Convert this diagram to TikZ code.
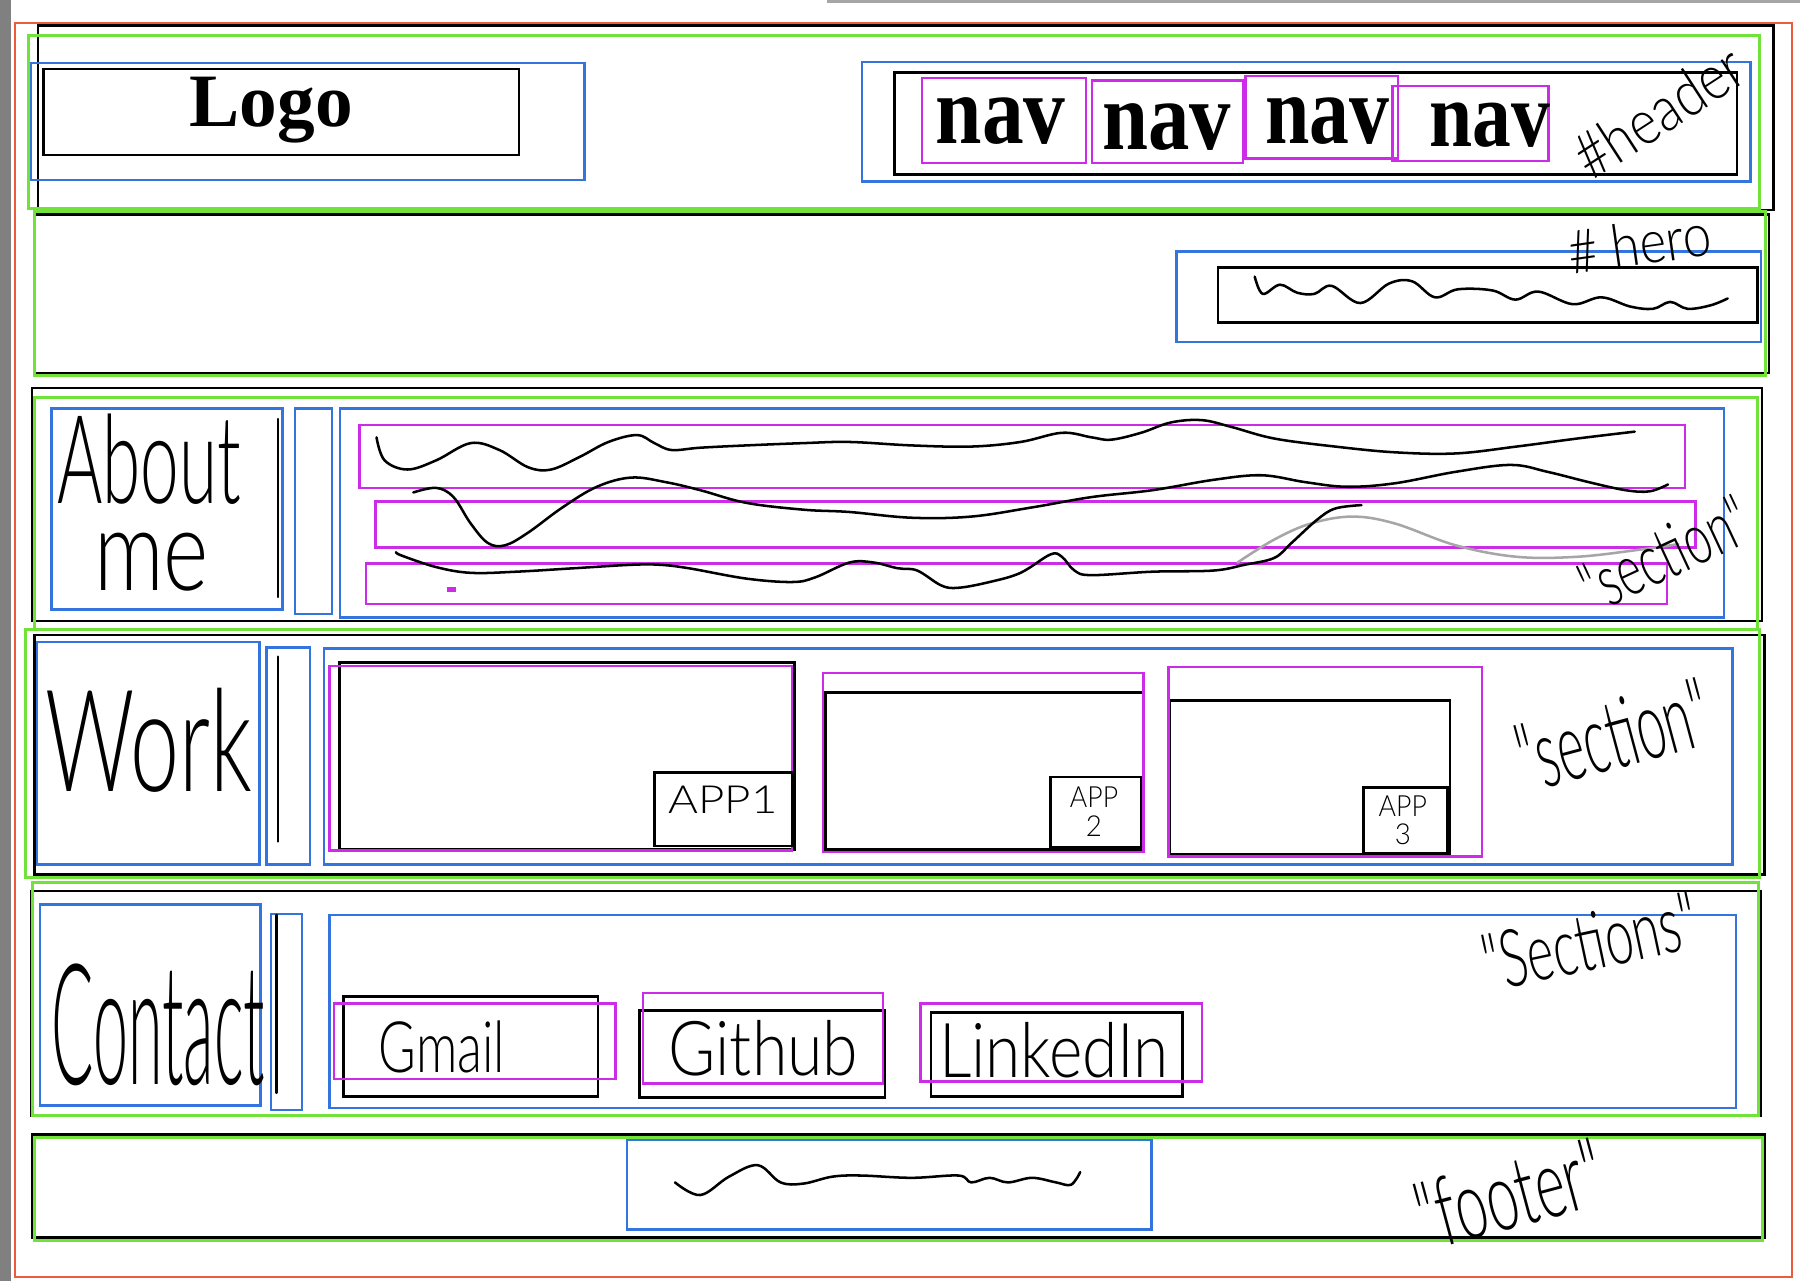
\documentclass[tikz,border=0pt]{standalone}
\usepackage{fontspec}
\usepackage{graphicx}
\newfontfamily\navfont{Liberation Serif}
\newfontfamily\handfont{Lato Light}
\usetikzlibrary{fit}
\definecolor{orangeR}{RGB}{236,92,58}
\definecolor{limeG}{RGB}{112,226,58}
\definecolor{blueB}{RGB}{52,116,222}
\definecolor{magM}{RGB}{204,44,232}
\definecolor{stripG}{RGB}{128,128,128}
\tikzset{
  box/.style={draw=#1, line width=2.1pt, inner sep=0pt},
  blk/.style={box=black, line width=2.3pt},
  grn/.style={box=limeG, line width=2.6pt},
  blu/.style={box=blueB},
  mag/.style={box=magM},
  outer/.style={box=orangeR, line width=1.8pt},
  ink/.style={line width=2.2pt, line cap=round, line join=round},
  hand/.style={inner sep=0pt, font=\handfont},
  txt/.style={inner sep=0pt, anchor=base west},
}
\newcommand\hw[3]{\resizebox{#1pt}{#2pt}{#3}}
\newcommand\bw[3]{\resizebox{#1pt}{#2pt}{\navfont\bfseries #3}}
\begin{document}
\begin{tikzpicture}[x=1pt,y=-1pt]
\useasboundingbox (0,0) rectangle (1568,1116);
\fill[white] (0,0) rectangle (1568,1116);
\fill[stripG] (0,0) rectangle (10,1116);
\fill[stripG!70!white] (720,0) rectangle (1568,3);
% outer page
\node[outer, fit={(13,20)(1561,1112)}] (page) {};
% ---------- header ----------
\node[blk, fit={(33,22)(1545,183)}] (headerB) {};
\node[grn, fit={(25,31)(1533,182)}] (headerG) {};
\node[blk, fit={(38,60)(452,135)}] (logoB) {};
\node[blu, fit={(27,55)(509,157)}] (logoU) {};
\node[txt] (logoT) at (165,110) {\bw{142}{43}{Logo}};
\node[blk, fit={(779,63)(1513,152)}] (navB) {};
\node[blu, fit={(751,54)(1525,158)}] (navU) {};
\node[mag, fit={(803,68)(946,142)}] (nav1) {};
\node[mag, fit={(951,70)(1083,142)}] (nav2) {};
\node[mag, fit={(1085,66)(1218,138)}] (nav3) {};
\node[mag, fit={(1213,75)(1349,140)}] (nav4) {};
\node[txt] (nav1T) at (815,125) {\bw{113}{40}{nav}};
\node[txt] (nav2T) at (960,130) {\bw{112}{40}{nav}};
\node[txt] (nav3T) at (1102,125) {\bw{108}{40}{nav}};
\node[txt] (nav4T) at (1245,128) {\bw{105}{38}{nav}};
\node[hand, rotate=33] (headerT) at (1445,97) {\hw{165}{40}{\#header}};
% ---------- hero ----------
\node[blk, fit={(30,187)(1541,325)}] (heroB) {};
\node[grn, fit={(30,184)(1538,327)}] (heroG) {};
\node[blu, fit={(1025,219)(1534,298)}] (heroU) {};
\node[blk, fit={(1061,233)(1531,281)}] (heroIn) {};
\node[hand, rotate=8] (heroT) at (1428,212) {\hw{125}{38}{\# hero}};
\draw[ink] plot[smooth, tension=0.6] coordinates {(1093,241) (1100,256) (1115,248) (1130,255) (1145,256) (1160,249) (1185,264) (1210,247) (1230,245) (1250,259) (1270,252) (1300,253) (1320,261) (1340,254) (1370,265) (1395,259) (1420,267) (1440,269) (1455,263) (1470,269) (1490,266) (1505,260)};
% ---------- about ----------
\node[blk, fit={(28,338)(1535,541)}] (aboutB) {};
\node[grn, fit={(30,346)(1531,548)}] (aboutG) {};
\node[blu, fit={(45,356)(246,531)}] (aboutL) {};
\node[blu, fit={(257,356)(289,535)}] (aboutS) {};
\node[blu, fit={(296,356)(1502,538)}] (aboutC) {};
\node[mag, fit={(313,370)(1468,425)}] (row1) {};
\node[mag, fit={(327,437)(1477,477)}] (row2) {};
\node[mag, fit={(319,491)(1452,526)}] (row3) {};
\fill[magM] (389,511) rectangle (397,516);
\draw[ink] (242,365) -- (242,520);
\node[hand] (aboutT) at (130,400) {\hw{160}{78}{About}};
\node[hand] (meT) at (132,490) {\hw{100}{50}{me}};
\draw[ink] plot[smooth, tension=0.6] coordinates {(328,381) (335,401) (355,409) (380,401) (410,386) (435,392) (460,407) (480,409) (505,398) (530,385) (555,379) (570,386) (585,392) (610,390) (650,388) (700,386) (740,385) (794,388) (846,389) (889,385) (925,377) (951,381) (968,383) (994,377) (1020,368) (1047,366) (1073,372) (1110,382) (1163,389) (1215,394) (1268,395) (1321,389) (1374,382) (1424,376)};
\draw[ink] plot[smooth, tension=0.6] coordinates {(360,429) (380,425) (395,433) (410,456) (425,473) (440,475) (460,464) (490,442) (520,424) (550,416) (580,420) (610,427) (650,438) (700,444) (740,446) (794,451) (846,450) (899,442) (951,433) (1004,427) (1057,418) (1099,414) (1137,420) (1173,424) (1215,421) (1268,411) (1316,405) (1348,411) (1384,420) (1416,427) (1437,428) (1453,422)};
\draw[ink, gray!70] plot[smooth, tension=0.6] coordinates {(1078,490) (1110,470) (1142,456) (1178,450) (1215,456) (1268,475) (1321,485) (1374,485) (1427,479) (1462,474)};
\draw[ink] plot[smooth, tension=0.6] coordinates {(345,481) (350,484) (380,494) (410,499) (450,498) (500,495) (550,492) (575,492) (600,495) (650,504) (690,507) (710,503) (740,490) (761,490) (782,495) (799,497) (820,510) (835,512) (862,507) (889,499) (915,483) (925,485) (936,497) (951,501) (1004,498) (1057,497) (1084,492) (1110,486) (1125,473) (1147,453) (1163,443) (1186,440)};
\node[hand, rotate=25] (aboutQ) at (1450,482) {\hw{155}{45}{"section"}};
% ---------- work ----------
\node[blk, fit={(30,553)(1537,762)}] (workB) {};
\node[grn, fit={(22,548)(1533,764)}] (workG) {};
\node[blu, fit={(32,559)(226,753)}] (workL) {};
\node[blu, fit={(232,564)(270,753)}] (workS) {};
\node[blu, fit={(282,565)(1509,753)}] (workC) {};
\draw[ink] (242,572) -- (242,733);
\node[hand] (workT) at (130,645) {\hw{180}{90}{Work}};
\node[blk, fit={(296,577)(692,740)}] (card1B) {};
\node[mag, fit={(287,580)(690,741)}] (card1) {};
\node[blk, fit={(570,673)(690,737)}] (app1B) {};
\node[hand] (app1T) at (630,697) {\hw{95}{24}{APP1}};
\node[blk, fit={(719,603)(996,740)}] (card2B) {};
\node[mag, fit={(717,586)(996,742)}] (card2) {};
\node[blk, fit={(915,677)(994,738)}] (app2B) {};
\node[hand] (app2T) at (953,694) {\hw{42}{18}{APP}};
\node[hand] (app2N) at (953,720) {\hw{14}{18}{2}};
\node[blk, fit={(1019,610)(1263,744)}] (card3B) {};
\node[mag, fit={(1018,581)(1291,746)}] (card3) {};
\node[blk, fit={(1188,686)(1261,743)}] (app3B) {};
\node[hand] (app3T) at (1222,702) {\hw{42}{18}{APP}};
\node[hand] (app3N) at (1222,727) {\hw{14}{18}{3}};
\node[hand, rotate=15] (workQ) at (1405,640) {\hw{170}{60}{"section"}};
% ---------- contact ----------
\node[blk, fit={(27,776)(1534,972)}] (contactB) {};
\node[grn, fit={(28,769)(1532,972)}] (contactG) {};
\node[blu, fit={(35,788)(227,963)}] (contactL) {};
\node[blu, fit={(236,796)(263,967)}] (contactS) {};
\node[blu, fit={(287,797)(1512,965)}] (contactC) {};
\draw[ink] (241,797) -- (241,952);
\node[hand] (contactT) at (138,893) {\hw{186}{105}{Contact}};
\node[blk, fit={(299,868)(521,955)}] (gmailB) {};
\node[mag, fit={(291,874)(536,940)}] (gmail) {};
\node[hand] (gmailT) at (385,912) {\hw{110}{45}{Gmail}};
\node[blk, fit={(557,880)(771,956)}] (githubB) {};
\node[mag, fit={(560,865)(769,944)}] (github) {};
\node[hand] (githubT) at (665,913) {\hw{165}{48}{Github}};
\node[blk, fit={(811,882)(1030,955)}] (linkedinB) {};
\node[mag, fit={(802,874)(1047,942)}] (linkedin) {};
\node[hand] (linkedinT) at (918,915) {\hw{200}{48}{LinkedIn}};
\node[hand, rotate=12] (contactQ) at (1385,820) {\hw{190}{50}{"Sections"}};
% ---------- footer ----------
\node[blk, fit={(28,988)(1537,1078)}] (footerB) {};
\node[grn, fit={(30,991)(1535,1081)}] (footerG) {};
\node[blu, fit={(546,993)(1003,1071)}] (footerU) {};
\draw[ink] plot[smooth, tension=0.6] coordinates {(588,1030) (610,1041) (635,1025) (660,1015) (680,1030) (700,1031) (725,1025) (750,1024) (794,1026) (835,1024) (846,1030) (862,1026) (878,1030) (899,1026) (920,1030) (933,1032) (941,1021)};
\node[hand, rotate=15] (footerQ) at (1315,1040) {\hw{165}{60}{"footer"}};
\end{tikzpicture}
\end{document}
